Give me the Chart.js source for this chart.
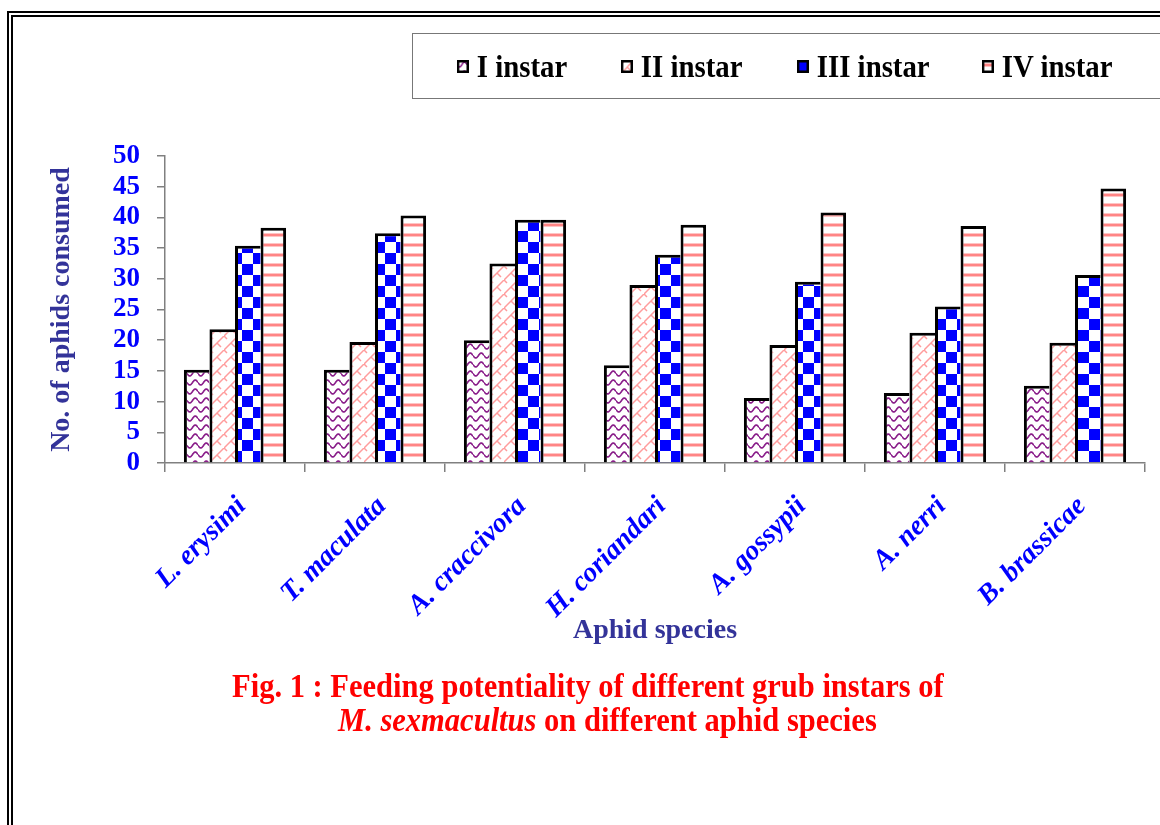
<!DOCTYPE html>
<html>
<head>
<meta charset="utf-8">
<script src="https://cdn.jsdelivr.net/npm/chart.js@4"></script>
<style>
  body { margin: 0; width: 1160px; height: 825px; overflow: hidden; background: #fff; position: relative; font-family: "Times New Roman", "Liberation Serif", serif; }
  #ramme { position: absolute; left: 7px; top: 11px; width: 1300px; height: 1000px; border: 6px double #000; }
  #diagramBoks { position: absolute; left: 0; top: 0; width: 1160px; height: 825px; }
  #forklaring { position: absolute; left: 412px; top: 33px; width: 800px; height: 64px; border: 1.5px solid #777; background: #fff; }
  .post { position: absolute; top: 0; height: 64px; display: flex; align-items: center; font-weight: bold; font-size: 32px; color: #000; white-space: nowrap; transform: scaleX(0.9); transform-origin: left center; }
  .post canvas { margin-right: 9px; }
  .tekst { position: absolute; color: #ff0000; font-weight: bold; font-size: 33px; white-space: nowrap; transform: scaleX(0.925); transform-origin: left center; }
</style>
</head>
<body>
<div id="ramme"></div>
<div id="diagramBoks"><canvas id="diagram" width="1160" height="825"></canvas></div>
<div id="forklaring"></div>
<div class="tekst" style="left:232px; top:668px;">Fig. 1 : Feeding potentiality of different grub instars of</div>
<div class="tekst" style="left:338px; top:702px;"><i>M. sexmacultus</i> on different aphid species</div>
<script>
// Data
var artar = ['L. erysimi', 'T. maculata', 'A. craccivora', 'H. coriandari', 'A. gossypii', 'A. nerri', 'B. brassicae'];
var instarNamn = ['I instar', 'II instar', 'III instar', 'IV instar'];
var instar1 = [15.2, 15.2, 20.0, 15.9, 10.6, 11.4, 12.6];
var instar2 = [21.8, 19.7, 32.5, 29.0, 19.2, 21.2, 19.6];
var instar3 = [35.4, 37.4, 39.6, 33.9, 29.5, 25.5, 30.6];
var instar4 = [38.3, 40.3, 39.6, 38.8, 40.8, 38.6, 44.7];
var yTicks = [0, 5, 10, 15, 20, 25, 30, 35, 40, 45, 50];

var font = "'Times New Roman', 'Liberation Serif', serif";

// Lagar mønster for søylene
function lagMonster(type) {
    var c = document.createElement('canvas');
    var g;
    if (type == 'bolge') {
        c.width = 11; c.height = 9;
        g = c.getContext('2d');
        g.fillStyle = '#fff'; g.fillRect(0, 0, 11, 9);
        g.strokeStyle = '#8a1f8a'; g.lineWidth = 1.7;
        g.beginPath();
        for (var x = 0; x <= 11; x += 0.5) {
            var y = 4.5 + 2.4 * Math.sin(x / 11 * 2 * Math.PI);
            if (x == 0) g.moveTo(x, y); else g.lineTo(x, y);
        }
        g.stroke();
    } else if (type == 'sild') {
        c.width = 14; c.height = 14;
        g = c.getContext('2d');
        g.fillStyle = '#fff'; g.fillRect(0, 0, 14, 14);
        g.strokeStyle = '#ff9c9c'; g.lineWidth = 1.5;
        g.beginPath();
        g.moveTo(-1, 15); g.lineTo(15, -1);
        g.moveTo(7, 7); g.lineTo(11, 11);
        g.moveTo(0, 0); g.lineTo(3, 3);
        g.stroke();
    } else if (type == 'rute') {
        c.width = 22; c.height = 22;
        g = c.getContext('2d');
        g.fillStyle = '#fff'; g.fillRect(0, 0, 22, 22);
        g.fillStyle = '#0000ff';
        g.fillRect(0, 0, 11, 11);
        g.fillRect(11, 11, 11, 11);
    } else {
        c.width = 4; c.height = 10;
        g = c.getContext('2d');
        g.fillStyle = '#fff'; g.fillRect(0, 0, 4, 10);
        g.fillStyle = '#ffc4c4'; g.fillRect(0, 3, 4, 4);
        g.fillStyle = '#ff8585'; g.fillRect(0, 4, 4, 2);
    }
    return c;
}

var ctx = document.getElementById('diagram').getContext('2d');
var monsterTypar = ['bolge', 'sild', 'rute', 'stripe'];
var monster = [];
for (var i = 0; i < 4; i++) {
    monster.push(ctx.createPattern(lagMonster(monsterTypar[i]), 'repeat'));
}
var verdiar = [instar1, instar2, instar3, instar4];

// Forklaring (legend) i HTML
var forklaringX = [44, 208, 384, 569];
var boks = document.getElementById('forklaring');
for (var i = 0; i < 4; i++) {
    var post = document.createElement('div');
    post.className = 'post';
    post.style.left = forklaringX[i] + 'px';
    var lite = document.createElement('canvas');
    lite.width = 13; lite.height = 13;
    var lg = lite.getContext('2d');
    lg.fillStyle = lg.createPattern(lagMonster(monsterTypar[i]), 'repeat');
    lg.fillRect(0, 0, 13, 13);
    lg.strokeStyle = '#000'; lg.lineWidth = 2.5;
    lg.strokeRect(1.25, 1.25, 10.5, 10.5);
    post.appendChild(lite);
    var t = document.createElement('span');
    t.textContent = instarNamn[i];
    post.appendChild(t);
    boks.appendChild(post);
}

var datasett = [];
for (var i = 0; i < 4; i++) {
    datasett.push({
        label: instarNamn[i],
        data: verdiar[i],
        backgroundColor: monster[i],
        borderColor: '#000',
        borderWidth: i == 3 ? {top: 3, left: 3, right: 3, bottom: 0} : {top: 3, left: 3, right: 0, bottom: 0},
        borderSkipped: false,
        categoryPercentage: 0.73,
        barPercentage: 1.0
    });
}

var diagram = new Chart(ctx, {
    type: 'bar',
    data: { labels: artar, datasets: datasett },
    options: {
        responsive: false,
        animation: false,
        layout: { padding: { left: 11, right: 15, top: 156, bottom: 173 } },
        plugins: {
            legend: { display: false },
            tooltip: { enabled: false }
        },
        scales: {
            x: {
                afterFit: function (s) { s.height = 189; },
                grid: { drawOnChartArea: false, drawTicks: true, tickLength: 9, color: '#808080', lineWidth: 1.5 },
                border: { color: '#808080', width: 1.5 },
                ticks: {
                    color: '#0000ff',
                    font: { family: font, size: 28, weight: 'bold', style: 'italic' },
                    minRotation: 45, maxRotation: 45,
                    autoSkip: false,
                    padding: 18,
                    labelOffset: 7
                },
                title: {
                    display: true,
                    text: 'Aphid species',
                    color: '#333399',
                    font: { family: font, size: 28, weight: 'bold' },
                    padding: 4
                }
            },
            y: {
                min: 0, max: 50,
                afterFit: function (s) { s.width = 154; },
                afterBuildTicks: function (s) { s.ticks = yTicks.map(function (v) { return { value: v }; }); },
                grid: { drawOnChartArea: false, drawTicks: true, tickLength: 8, color: '#808080', lineWidth: 1.5 },
                border: { color: '#808080', width: 1.5 },
                ticks: {
                    color: '#0000ff',
                    font: { family: font, size: 27, weight: 'bold' },
                    padding: 17,
                    autoSkip: false
                },
                title: {
                    display: true,
                    text: 'No. of aphids consumed',
                    color: '#333399',
                    font: { family: font, size: 28, weight: 'bold' },
                    padding: 34
                }
            }
        }
    }
});
</script>
</body>
</html>
